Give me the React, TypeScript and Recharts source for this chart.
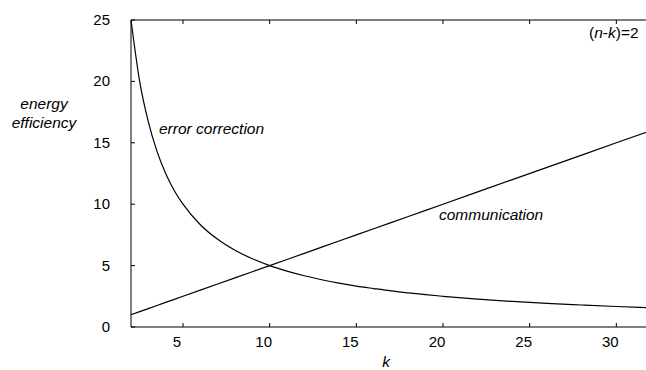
import { CartesianGrid, Line, LineChart, XAxis, YAxis } from "recharts";

const kValues = [2, 2.5, 3, 3.5, 4, 4.5, 5, 6, 7, 8, 9, 10, 11, 12, 13, 14, 15, 16, 17, 18, 19, 20, 22, 24, 26, 28, 30, 32];
const errorCorrection = [25, 20, 16.7, 14.3, 12.5, 11.1, 10, 8.33, 7.14, 6.25, 5.56, 5, 4.55, 4.17, 3.85, 3.57, 3.33, 3.13, 2.94, 2.78, 2.63, 2.5, 2.27, 2.08, 1.92, 1.79, 1.67, 1.56];
const communication = [1, 1.25, 1.5, 1.75, 2, 2.25, 2.5, 3, 3.5, 4, 4.5, 5, 5.5, 6, 6.5, 7, 7.5, 8, 8.5, 9, 9.5, 10, 11, 12, 13, 14, 15, 16];
const xTicks = [5, 10, 15, 20, 25, 30];
const yTicks = [0, 5, 10, 15, 20, 25];

const data = kValues.map((k, i) => ({
  k,
  err: errorCorrection[i],
  comm: communication[i],
}));

const FONT = '"Liberation Sans", Arial, Helvetica, sans-serif';

function BottomTick({ x, y, payload }: any) {
  return (
    <g>
      <line x1={x} y1={y} x2={x} y2={y - 4} stroke="#000" />
      <text x={x - 6} y={y + 20} textAnchor="middle" fontSize={15} fontFamily={FONT} fill="#000">
        {payload.value}
      </text>
    </g>
  );
}

function TopTick({ x, y }: any) {
  return <line x1={x} y1={y} x2={x} y2={y + 4} stroke="#000" />;
}

function LeftTick({ x, y, payload }: any) {
  return (
    <g>
      <line x1={x} y1={y} x2={x + 4} y2={y} stroke="#000" />
      <text x={x - 21} y={y + 5} textAnchor="end" fontSize={15} fontFamily={FONT} fill="#000">
        {payload.value}
      </text>
    </g>
  );
}

export default function App() {
  return (
    <div style={{ position: "absolute", left: 0, top: 0, width: 646, height: 370, overflow: "hidden", background: "#fff" }}>
      <LineChart width={660} height={370} data={data} margin={{ top: 0, right: 9, bottom: 0, left: 0 }}>
        <CartesianGrid stroke="none" />
        <XAxis
          dataKey="k"
          type="number"
          domain={[2, 32]}
          ticks={xTicks}
          height={43}
          axisLine={{ stroke: "#000" }}
          tickLine={false}
          tickSize={0}
          tickMargin={0}
          tick={<BottomTick />}
        />
        <XAxis
          xAxisId="top"
          dataKey="k"
          type="number"
          orientation="top"
          domain={[2, 32]}
          ticks={xTicks}
          height={20}
          axisLine={{ stroke: "#000" }}
          tickLine={false}
          tickSize={0}
          tickMargin={0}
          tick={<TopTick />}
        />
        <YAxis
          type="number"
          domain={[0, 25]}
          ticks={yTicks}
          width={131}
          axisLine={{ stroke: "#000" }}
          tickLine={false}
          tickSize={0}
          tickMargin={0}
          tick={<LeftTick />}
        />
        <Line dataKey="err" type="monotone" stroke="#000" strokeWidth={1.2} dot={false} isAnimationActive={false} />
        <Line dataKey="comm" type="linear" stroke="#000" strokeWidth={1.2} dot={false} isAnimationActive={false} />
      </LineChart>
      <svg width={646} height={370} style={{ position: "absolute", left: 0, top: 0, pointerEvents: "none" }}>
        <g fontFamily={FONT} fontSize={15.5} fill="#000">
          <text x={44} y={109} textAnchor="middle" fontStyle="italic">energy</text>
          <text x={44} y={128} textAnchor="middle" fontStyle="italic">efficiency</text>
          <text x={159} y={134} fontStyle="italic">error correction</text>
          <text x={439} y={220} fontStyle="italic">communication</text>
          <text x={589} y={38}>
            (<tspan fontStyle="italic">n</tspan>-<tspan fontStyle="italic">k</tspan>)=2
          </text>
          <text x={386} y={367} textAnchor="middle" fontStyle="italic">k</text>
        </g>
      </svg>
    </div>
  );
}
